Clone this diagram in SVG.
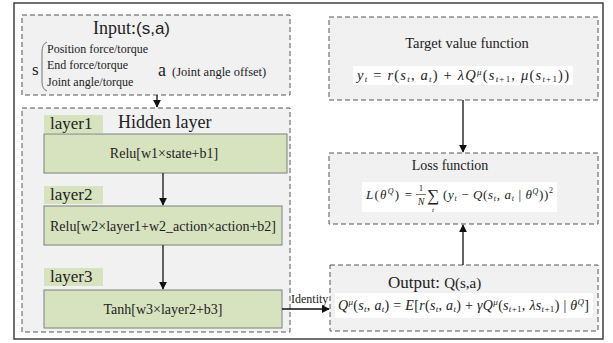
<svg xmlns="http://www.w3.org/2000/svg" width="613" height="343" viewBox="0 0 613 343" font-family="'Liberation Serif', serif">
<defs>
<marker id="ah" viewBox="0 0 10 10" refX="9" refY="5" markerWidth="8" markerHeight="8" markerUnits="userSpaceOnUse" orient="auto"><path d="M0,0 L10,5 L0,10 z" fill="#111"/></marker>
<style>
.frame{fill:#fff;stroke:#333;stroke-width:1.4}
.dash{fill:#f1f1f1;stroke:#555;stroke-width:1;stroke-dasharray:5,3}
.green{fill:#d7e3bf;stroke:#7f7f7f;stroke-width:1}
.lab{fill:#d7e3bf;stroke:none}
.t{font-family:'Liberation Serif',serif;fill:#222}
.m{font-family:'Liberation Serif',serif;fill:#222}
.i{font-style:italic}
.conn{stroke:#111;stroke-width:1.3;fill:none;marker-end:url(#ah)}
.wbox{fill:#fff;stroke:none}
</style>
</defs>
<rect class="frame" x="14" y="3" width="589" height="336"/>

<g id="input">
<rect class="dash" x="22" y="15" width="268" height="80"/>
<text class="t" x="93" y="34" font-size="18">Input:<tspan font-family="'Liberation Sans',sans-serif" font-size="17">(s,a)</tspan></text>
<text class="t" x="32" y="75" font-size="17">s</text>
<path d="M47,42 Q42,44 42,52 L42,82 Q42,89 47,91" fill="none" stroke="#555" stroke-width="0.8"/>
<text class="t" x="47" y="53" font-size="12">Position force/torque</text>
<text class="t" x="47" y="69" font-size="12">End force/torque</text>
<text class="t" x="47" y="86" font-size="12">Joint angle/torque</text>
<text class="t" x="158" y="76" font-size="18">a</text>
<text class="t" x="172" y="76" font-size="12.5">(Joint angle offset)</text>
</g>

<g id="hidden">
<rect class="dash" x="22" y="108" width="268" height="224"/>
<text class="t" x="118" y="128" font-size="18">Hidden layer</text>
</g>

<g id="layer1">
<rect class="lab" x="44" y="115" width="59" height="18"/>
<text class="t" x="50" y="129" font-size="17">layer1</text>
<rect class="green" x="44" y="134" width="243" height="39"/>
<text class="t" x="164" y="158" font-size="14" text-anchor="middle">Relu[w1×state+b1]</text>
</g>

<g id="layer2">
<rect class="lab" x="44" y="186" width="59" height="18"/>
<text class="t" x="50" y="200" font-size="17">layer2</text>
<rect class="green" x="44" y="206" width="238" height="39"/>
<text class="t" x="163" y="231" font-size="14" text-anchor="middle">Relu[w2×layer1+w2_action×action+b2]</text>
</g>

<g id="layer3">
<rect class="lab" x="44" y="268" width="59" height="18"/>
<text class="t" x="50" y="282" font-size="17">layer3</text>
<rect class="green" x="44" y="290" width="238" height="38"/>
<text class="t" x="163" y="314" font-size="14" text-anchor="middle">Tanh[w3×layer2+b3]</text>
</g>

<g id="target">
<rect class="dash" x="329" y="17" width="269" height="83"/>
<text class="t" x="467" y="48" font-size="14.5" text-anchor="middle">Target value function</text>
<rect class="wbox" x="353" y="66" width="220" height="19"/>
<text class="m" x="357" y="80" font-size="14.5" textLength="212" lengthAdjust="spacing"><tspan class="i">y</tspan><tspan class="i" font-size="9" dy="2">t</tspan><tspan dy="-2"> = </tspan><tspan class="i">r</tspan>(<tspan class="i">s</tspan><tspan class="i" font-size="9" dy="2">t</tspan><tspan dy="-2">, </tspan><tspan class="i">a</tspan><tspan class="i" font-size="9" dy="2">t</tspan><tspan dy="-2">) + </tspan><tspan class="i">λQ</tspan><tspan class="i" font-size="9" dy="-5">μ</tspan><tspan dy="5">(</tspan><tspan class="i">s</tspan><tspan class="i" font-size="9" dy="2">t</tspan><tspan font-size="9">+1</tspan><tspan dy="-2">, </tspan><tspan class="i">μ</tspan>(<tspan class="i">s</tspan><tspan class="i" font-size="9" dy="2">t</tspan><tspan font-size="9">+1</tspan><tspan dy="-2">))</tspan></text>
</g>

<g id="loss">
<rect class="dash" x="329" y="153" width="269" height="71"/>
<text class="t" x="450" y="170" font-size="14" text-anchor="middle">Loss function</text>
<rect class="wbox" x="362" y="182" width="195" height="30"/>
<text class="m" x="366" y="199" font-size="13" textLength="46" lengthAdjust="spacing"><tspan class="i">L</tspan>(<tspan class="i">θ</tspan><tspan class="i" font-size="8" dy="-5">Q</tspan><tspan dy="5">) =</tspan></text>
<text class="m" x="421" y="191" font-size="9" text-anchor="middle">1</text>
<line x1="416" y1="194.5" x2="426" y2="194.5" stroke="#222" stroke-width="0.6"/>
<text class="m i" x="421" y="205" font-size="10" text-anchor="middle">N</text>
<text class="m" x="427" y="201" font-size="17">∑</text>
<text class="m i" x="432" y="212" font-size="7">t</text>
<text class="m" x="443" y="199" font-size="13" textLength="110" lengthAdjust="spacing">(<tspan class="i">y</tspan><tspan class="i" font-size="8" dy="2">t</tspan><tspan dy="-2"> − </tspan><tspan class="i">Q</tspan>(<tspan class="i">s</tspan><tspan class="i" font-size="8" dy="2">t</tspan><tspan dy="-2">, </tspan><tspan class="i">a</tspan><tspan class="i" font-size="8" dy="2">t</tspan><tspan dy="-2"> | </tspan><tspan class="i">θ</tspan><tspan class="i" font-size="8" dy="-5">Q</tspan><tspan dy="5">))</tspan><tspan font-size="8" dy="-6">2</tspan></text>
</g>

<g id="output">
<rect class="dash" x="330" y="265" width="268" height="66"/>
<text class="t" x="388" y="288" font-size="17">Output: <tspan font-size="15">Q(s,a)</tspan></text>
<rect class="wbox" x="335" y="293" width="258" height="25"/>
<text class="m" x="338" y="310" font-size="14" textLength="251" lengthAdjust="spacing"><tspan class="i">Q</tspan><tspan class="i" font-size="9" dy="-5">μ</tspan><tspan dy="5">(</tspan><tspan class="i">s</tspan><tspan class="i" font-size="9" dy="2">t</tspan><tspan dy="-2">, </tspan><tspan class="i">a</tspan><tspan class="i" font-size="9" dy="2">t</tspan><tspan dy="-2">) = </tspan><tspan class="i">E</tspan>[<tspan class="i">r</tspan>(<tspan class="i">s</tspan><tspan class="i" font-size="9" dy="2">t</tspan><tspan dy="-2">, </tspan><tspan class="i">a</tspan><tspan class="i" font-size="9" dy="2">t</tspan><tspan dy="-2">) + </tspan><tspan class="i">γQ</tspan><tspan class="i" font-size="9" dy="-5">μ</tspan><tspan dy="5">(</tspan><tspan class="i">s</tspan><tspan class="i" font-size="9" dy="2">t</tspan><tspan font-size="9">+1</tspan><tspan dy="-2">, </tspan><tspan class="i">λs</tspan><tspan class="i" font-size="9" dy="2">t</tspan><tspan font-size="9">+1</tspan><tspan dy="-2">) | </tspan><tspan class="i">θ</tspan><tspan class="i" font-size="9" dy="-5">Q</tspan><tspan dy="5">]</tspan></text>
</g>

<g id="connectors">
<line class="conn" x1="157" y1="95" x2="157" y2="107"/>
<line class="conn" x1="163" y1="173" x2="163" y2="205"/>
<line class="conn" x1="163" y1="245" x2="163" y2="289"/>
<line class="conn" x1="282" y1="309" x2="329" y2="309"/>
<text class="t" x="291" y="303" font-size="12">Identity</text>
<line class="conn" x1="463" y1="100" x2="463" y2="152"/>
<line class="conn" x1="463" y1="265" x2="463" y2="225"/>
</g>
</svg>
